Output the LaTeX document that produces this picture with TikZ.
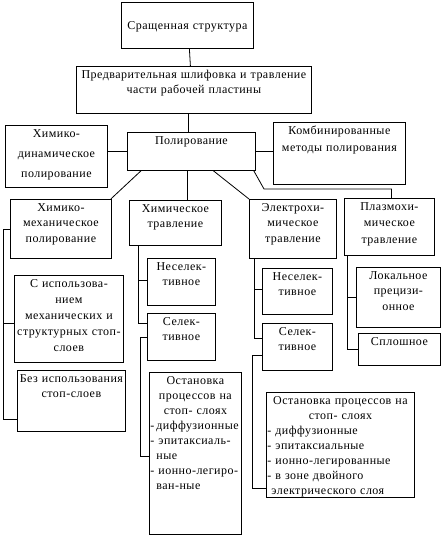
\documentclass[tikz,border=0pt]{standalone}
\usepackage{fontspec}
\setmainfont{Liberation Serif}[LetterSpace=4]
\usetikzlibrary{positioning, calc}

\begin{document}
\begin{tikzpicture}[
    x=1pt, y=-1pt,
    font=\fontsize{12}{15.5}\selectfont,
    blk/.style={draw, line width=0.8pt, anchor=north west, inner xsep=1pt, inner ysep=2pt, align=center, text height=10pt},
    con/.style={line width=0.8pt}
]
\path[use as bounding box, fill=white] (0,0) rectangle (442,536);

% Top
\node[blk, text width=130pt, minimum height=46pt] (top) at (121,2) {Сращенная структура};
\node[blk, text width=233pt, text depth=33pt] (prep) at (76,66) {Предварительная шлифовка и травление\\[-0.5pt]части рабочей пластины};

% Polishing row
\node[blk, text width=100pt, text depth=48pt] (cdp) at (5,125) {Химико-\\[4.5pt]динамическое\\[4.5pt]полирование};
\node[blk, text width=126pt, text depth=24pt] (pol) at (127,132) {Полирование};
\node[blk, text width=130pt, text depth=48pt] (comb) at (273,122) {Комбинированные\\[1.5pt]методы полирования};

% Chemical-mechanical
\node[blk, text width=99pt, text depth=45pt] (cmp) at (10,199) {Химико-\\механическое\\полирование};
\node[blk, text width=107pt, text depth=73pt] (wst) at (14,275) {С использова-\\[0.5pt]нием\\[0.5pt]механических и\\[0.5pt]структурных\ стоп-\\[0.5pt]слоев};
\node[blk, text width=106pt, text depth=47pt] (wo) at (17,370) {\mbox{Без использования}\\стоп-слоев};

% Chemical etching
\node[blk, text width=90pt, text depth=31pt] (chet) at (129,200) {Химическое\\травление};
\node[blk, text width=66pt, text depth=33pt] (chns) at (147,258) {Неселек-\\тивное};
\node[blk, text width=66pt, text depth=33pt] (chsel) at (147,313) {Селек-\\тивное};
\node[blk, text width=90pt, text depth=148pt, align=left] (chstop) at (149,372) {{\centering Остановка\\[-0.5pt]процессов на\\[-0.5pt]стоп- слоях\par}\raggedright
  \mbox{-\hspace{2pt}диффузионные}\\[-0.5pt]\mbox{- эпитаксиаль-}\\[-0.5pt]\hspace*{6pt}ные\\[-0.5pt]\mbox{- ионно-легиро-}\\[-0.5pt]\hspace*{6pt}ван-ные};

% Electrochemical etching
\node[blk, text width=85pt, text depth=45pt] (elet) at (249,199) {Электрохи-\\мическое\\травление};
\node[blk, text width=68pt, text depth=32pt] (elns) at (262,268) {Неселек-\\тивное};
\node[blk, text width=68pt, text depth=33pt] (elsel) at (262,323) {Селек-\\тивное};
\node[blk, text width=146pt, text depth=91pt, align=left] (elstop) at (266,392) {{\centering Остановка процессов на\\[-0.5pt]стоп- слоях\par}\raggedright
  - диффузионные\\[-0.5pt]- эпитаксиальные\\[-0.5pt]- ионно-легированные\\[-0.5pt]- в зоне двойного\\[-0.5pt]\hspace*{4pt}электрического слоя};

% Plasma-chemical etching
\node[blk, text width=88pt, text depth=43pt] (plet) at (344,198) {Плазмохи-\\[1pt]мическое\\[1pt]травление};
\node[blk, text width=82pt, text depth=46pt] (plloc) at (356,267) {Локальное\\прецизи-\\онное};
\node[blk, text width=80pt, text depth=18pt] (plsp) at (358,333) {Сплошное};

% Connectors from the top
\draw[con] ([xshift=2pt]top.south) -- ([xshift=-3.5pt]prep.north);
\draw[con] ([xshift=-3pt]pol.north |- prep.south) -- ([xshift=-3pt]pol.north);
\draw[con] (pol.west) -- (pol.west -| cdp.east);
\draw[con] (pol.east) -- (pol.east -| comb.west);
\draw[con] ([xshift=14pt]pol.south west) -- ([xshift=-1pt]cmp.north east);
\draw[con] ([xshift=-4pt]pol.south) -- ([xshift=-4pt]pol.south |- chet.north);
\draw[con] ([xshift=22pt]pol.south) -- (elet.north west);
\coordinate (pk) at (264,189);
\draw[con] ([xshift=-2pt]pol.south east) -- (pk) -| ([xshift=2pt]plet.north);

% Left column
\coordinate (lx) at (3,0);
\draw[con] (cmp.west) -- (cmp.west -| lx) |- ([yshift=-18pt]wo.west);
\draw[con] ([yshift=-4pt]wst.west) -- ([yshift=-4pt]wst.west -| lx);

% Chemical column
\coordinate (cx) at (138,0);
\draw[con] (chet.south -| cx) |- ([yshift=14pt]chsel.west);
\draw[con] ([yshift=2pt]chns.west) -- ([yshift=2pt]chns.west -| cx);
\coordinate (cx2) at (140,0);
\draw[con] (chsel.west) -- (chsel.west -| cx2) |- ([yshift=-3pt]chstop.west);

% Electrochemical column
\coordinate (ex) at (254,0);
\draw[con] (elet.south -| ex) |- ([yshift=9pt]elsel.west);
\draw[con] ([yshift=2pt]elns.west) -- ([yshift=2pt]elns.west -| ex);
\coordinate (ex2) at (252,0);
\draw[con] ([yshift=-8pt]elsel.west) -- ([yshift=-8pt]elsel.west -| ex2) |- ([yshift=-43pt]elstop.west);

% Plasma column
\coordinate (px) at (347,0);
\draw[con] (plet.south -| px) |- (plsp.west);
\draw[con] (plloc.west) -- (plloc.west -| px);

\end{tikzpicture}
\end{document}
